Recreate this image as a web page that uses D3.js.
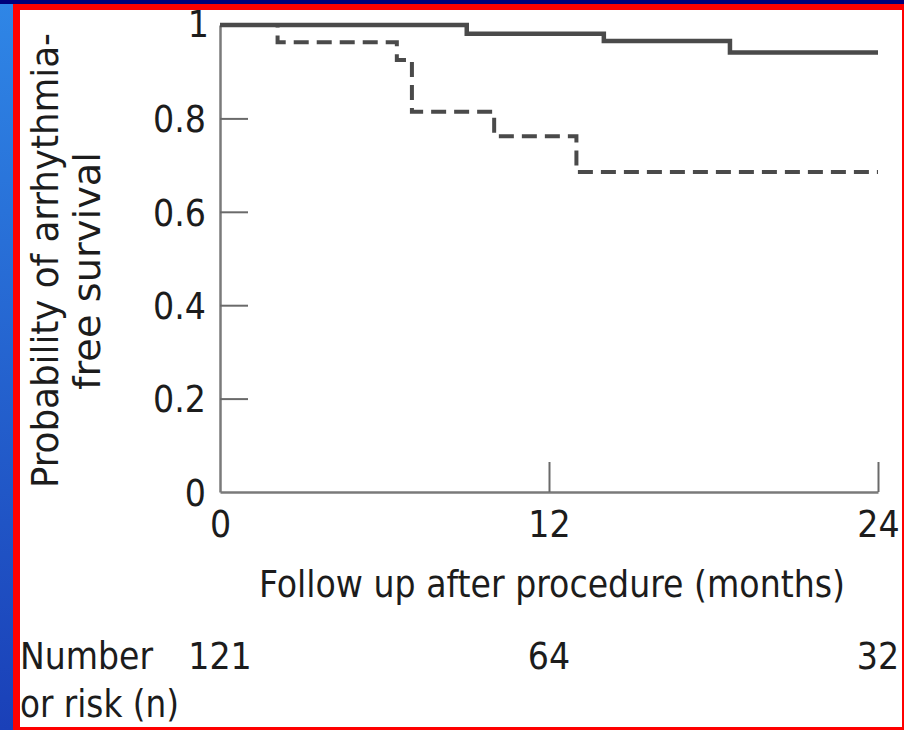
<!DOCTYPE html>
<html>
<head>
<meta charset="utf-8">
<style>
  html, body { margin: 0; padding: 0; background: #00007a; }
  svg { display: block; }
  text { font-family: "DejaVu Sans Condensed", "Liberation Sans Narrow", sans-serif; fill: #1c1c1c; }
</style>
<script src="https://cdn.jsdelivr.net/npm/d3@7"></script>
</head>
<body>
<div id="chart"></div>
<script>
(function () {
  // Kaplan-Meier step points
  var solidMonths = [0, 9.0, 14.0, 18.6, 24];
  var solidSurvival = [1, 0.981, 0.966, 0.941, 0.941];
  var dashedMonths = [0, 2.1, 6.45, 7.0, 10.0, 13.0, 24];
  var dashedSurvival = [1, 0.963, 0.925, 0.814, 0.762, 0.685, 0.685];

  var xTicks = [0, 12, 24];
  var yTicks = [0, 0.2, 0.4, 0.6, 0.8, 1];
  var yTickLabels = ['0', '0.2', '0.4', '0.6', '0.8', '1'];
  var atRiskMonths = [0, 12, 24];
  var atRiskCounts = ['121', '64', '32'];

  var W = 904, H = 730;
  var svg = d3.select('#chart').append('svg')
      .attr('width', W)
      .attr('height', H);

  /**
   * Slide background, red frame and white panel
   */
  function draw_frame() {
    var defs = svg.append('defs');
    var g = defs.append('linearGradient')
        .attr('id', 'sideBlue')
        .attr('x1', 0).attr('y1', 0).attr('x2', 0).attr('y2', 1);
    g.append('stop').attr('offset', 0).attr('stop-color', '#2f86e6');
    g.append('stop').attr('offset', 1).attr('stop-color', '#1a40b8');

    svg.append('rect').attr('width', W).attr('height', H).attr('fill', '#00007a');
    svg.append('rect').attr('x', 0).attr('y', 4).attr('width', 14).attr('height', H - 4)
        .attr('fill', 'url(#sideBlue)');
    svg.append('rect').attr('x', 13).attr('y', 4).attr('width', W - 13).attr('height', H - 4)
        .attr('fill', '#ff0000');
    svg.append('rect').attr('x', 20).attr('y', 10).attr('width', 882).attr('height', 717)
        .attr('fill', '#ffffff');
  }

  var x = d3.scaleLinear().domain([0, 24]).range([220, 878]);
  var y = d3.scaleLinear().domain([0, 1]).range([492, 25]);

  function draw_axes() {
    var yAxis = d3.axisLeft(y)
        .tickValues(yTicks)
        .tickFormat(function (d, i) { return yTickLabels[i]; })
        .tickSizeInner(-28)
        .tickSizeOuter(0)
        .tickPadding(14);

    var gy = svg.append('g').call(yAxis);
    gy.select('.domain').attr('stroke', '#7a7a7a').attr('stroke-width', 2.5);
    gy.selectAll('.tick line').attr('stroke', '#6a6a6a').attr('stroke-width', 2)
        .filter(function (d) { return d === 0 || d === 1; }).remove();
    gy.selectAll('.tick text')
        .attr('font-size', 37)
        .attr('dy', '0.36em')
        .attr('fill', '#1c1c1c')
        .attr('font-family', null);
    gy.attr('transform', 'translate(' + x(0) + ',0)');
    gy.selectAll('.tick')
        .filter(function (d) { return d === 1; })
        .select('text').attr('dy', '0.3em').attr('x', -11);

    var xAxis = d3.axisBottom(x)
        .tickValues(xTicks)
        .tickFormat(d3.format('d'))
        .tickSizeInner(-30)
        .tickSizeOuter(0)
        .tickPadding(0);

    var gx = svg.append('g')
        .attr('transform', 'translate(0,' + y(0) + ')')
        .call(xAxis);
    gx.select('.domain').attr('stroke', '#7a7a7a').attr('stroke-width', 2.5);
    gx.selectAll('.tick line').attr('stroke', '#6a6a6a').attr('stroke-width', 2)
        .filter(function (d) { return d === 0; }).remove();
    gx.selectAll('.tick text')
        .attr('font-size', 37)
        .attr('y', 45)
        .attr('dy', null)
        .attr('fill', '#1c1c1c')
        .attr('font-family', null);
  }

  function draw_curves() {
    var line = d3.line()
        .x(function (d) { return x(d[0]); })
        .y(function (d) { return y(d[1]); })
        .curve(d3.curveStepAfter);

    var dashed = d3.zip(dashedMonths, dashedSurvival);
    var solid = d3.zip(solidMonths, solidSurvival);

    svg.append('path')
        .datum(dashed)
        .attr('d', line)
        .attr('fill', 'none')
        .attr('stroke', '#4a4a4a')
        .attr('stroke-width', 4)
        .attr('stroke-dasharray', '15,8')
        .attr('stroke-dashoffset', 1);

    svg.append('path')
        .datum(solid)
        .attr('d', line)
        .attr('fill', 'none')
        .attr('stroke', '#4a4a4a')
        .attr('stroke-width', 4.5);
  }

  function draw_labels() {
    svg.append('text')
        .attr('transform', 'translate(58,488) rotate(-90)')
        .attr('font-size', 38)
        .attr('textLength', 455)
        .attr('lengthAdjust', 'spacingAndGlyphs')
        .text('Probability of arrhythmia-');

    svg.append('text')
        .attr('transform', 'translate(100,390) rotate(-90)')
        .attr('font-size', 38)
        .attr('textLength', 238)
        .attr('lengthAdjust', 'spacingAndGlyphs')
        .text('free survival');

    svg.append('text')
        .attr('x', 259)
        .attr('y', 597)
        .attr('font-size', 38)
        .attr('textLength', 586)
        .attr('lengthAdjust', 'spacingAndGlyphs')
        .text('Follow up after procedure (months)');

    svg.append('text')
        .attr('x', 20)
        .attr('y', 669)
        .attr('font-size', 37)
        .attr('textLength', 133)
        .attr('lengthAdjust', 'spacingAndGlyphs')
        .text('Number');

    svg.append('text')
        .attr('x', 20)
        .attr('y', 717)
        .attr('font-size', 37)
        .attr('textLength', 159)
        .attr('lengthAdjust', 'spacingAndGlyphs')
        .text('or risk (n)');

    svg.selectAll('text.atrisk')
        .data(atRiskCounts)
        .enter().append('text')
        .attr('class', 'atrisk')
        .attr('x', function (d, i) { return x(atRiskMonths[i]); })
        .attr('y', 669)
        .attr('font-size', 37)
        .attr('text-anchor', 'middle')
        .text(function (d) { return d; });
  }

  draw_frame();
  draw_axes();
  draw_curves();
  draw_labels();

  // keep the right red edge on top of clipped labels
  svg.append('rect').attr('x', 902).attr('y', 4).attr('width', 2).attr('height', H - 4)
      .attr('fill', '#ff0000');
}());
</script>
</body>
</html>
